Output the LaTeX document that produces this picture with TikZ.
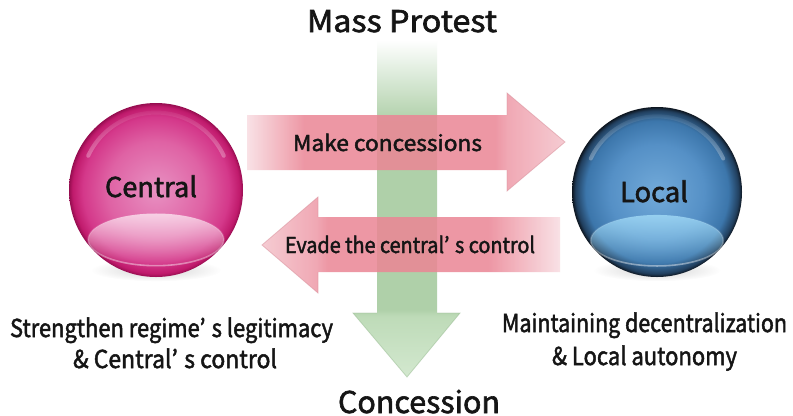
\documentclass[tikz,border=0pt]{standalone}
\usepackage{fontspec}
\usepackage{graphicx}
\usetikzlibrary{fadings,calc}
\newfontfamily\jp[FakeBold=2]{Noto Sans CJK JP}
\newdimen\pxu \pxu=0.75pt
\newcommand\fitw[2]{\resizebox{#1\pxu}{\height}{#2}}
\newcommand\apo{’\hspace{0.28em}}

\definecolor{txtc}{HTML}{151515}
% pink arrows
\definecolor{pkA}{HTML}{F8DDE2}
\definecolor{pk}{HTML}{EB8595}
\definecolor{pkH}{HTML}{EE9AA8}
\definecolor{pkT}{HTML}{F4C3CB}
\definecolor{pkE}{HTML}{D9919C}
% green arrow
\definecolor{gS}{HTML}{AFD0A9}
\definecolor{gH}{HTML}{BEDBB8}
\definecolor{gT}{HTML}{D3E8CF}
\definecolor{gE}{HTML}{9DBF97}
% central ball
\definecolor{cA}{HTML}{E891C2}
\definecolor{cB}{HTML}{DF62A4}
\definecolor{cC}{HTML}{D4388A}
\definecolor{cD}{HTML}{C01A6C}
\definecolor{cE}{HTML}{960D50}
\definecolor{cR}{HTML}{FCE6F1}
% local ball
\definecolor{lA}{HTML}{72AAD9}
\definecolor{lB}{HTML}{5590C6}
\definecolor{lC}{HTML}{3C76AB}
\definecolor{lD}{HTML}{213F5E}
\definecolor{lE}{HTML}{0D151F}
\definecolor{lR}{HTML}{A3DCF8}

\pgfdeclarehorizontalshading{mkshade}{100bp}{color(0bp)=(white); color(25bp)=(pkA); color(34bp)=(pk); color(64bp)=(pk); color(66bp)=(pkH); color(75bp)=(pkT); color(100bp)=(pkT)}
\pgfdeclarehorizontalshading{evshade}{100bp}{color(0bp)=(pkT); color(25bp)=(pkT); color(34bp)=(pkH); color(36bp)=(pk); color(63bp)=(pk); color(75bp)=(pkA); color(100bp)=(pkA)}
\pgfdeclareverticalshading{gshade}{100bp}{color(0bp)=(gT); color(25bp)=(gT); color(34bp)=(gH); color(35bp)=(gS); color(63bp)=(gS); color(75bp)=(white); color(100bp)=(white)}
\pgfdeclareradialshading{cball}{\pgfpoint{0bp}{0bp}}{color(0bp)=(cA); color(14bp)=(cB); color(21bp)=(cC); color(24bp)=(cD); color(25bp)=(cE); color(50bp)=(cE)}
\pgfdeclareradialshading{lball}{\pgfpoint{0bp}{0bp}}{color(0bp)=(lA); color(14bp)=(lB); color(21bp)=(lC); color(24bp)=(lD); color(25bp)=(lE); color(50bp)=(lE)}

\tikzfading[name=fuzzy, inner color=transparent!20, outer color=transparent!100]

\newcommand\gball[4]{%
  \fill[black, opacity=0.22, path fading=fuzzy] ($(#1)+(0,{#2*0.92})$) ellipse ({#2*0.75} and {#2*0.13});
  \shade[shading=#3] (#1) circle (#2);
  \draw[white, line width=3pt, opacity=0.3, path fading=north, line cap=round] ($(#1)+(0,{-#2*0.03})+(205:{#2*0.86})$) arc[start angle=205, end angle=335, radius={#2*0.86}];
  \fill[#4, fill opacity=0.8, path fading=south] ($(#1)+(0,{#2*0.57})$) ellipse ({#2*0.78} and {#2*0.3});
  \draw[white, line width=1.2pt, opacity=0.45, path fading=north] ($(#1)+(0,{#2*0.57})$) ellipse ({#2*0.78} and {#2*0.3});
}

\tikzset{
  lbl/.style={inner sep=0pt, anchor=base, text=txtc},
  big/.style={lbl, font=\jp\fontsize{22.5}{27}\selectfont},
  ball/.style={lbl, font=\jp\fontsize{20.5}{24}\selectfont},
  arr/.style={lbl, font=\jp\fontsize{16.4}{20}\selectfont},
  note/.style={lbl, font=\jp\fontsize{18.5}{22}\selectfont},
  pinkarrow/.style={fill opacity=0.85},
  edge/.style={line width=0.6pt, opacity=0.55, line join=miter},
}

\begin{document}
\begin{tikzpicture}[x=0.75pt,y=-0.75pt]
\useasboundingbox (0,0) rectangle (793,415);
\fill[white] (0,0) rectangle (793,415);

% centres
\coordinate (central) at (156,190);
\coordinate (local) at (657,192);

% green vertical arrow
\shade[shading=gshade] (377,40) -- (437,40) -- (437,313) -- (460,313) -- (407,377) -- (353,313) -- (377,313) -- cycle;
\draw[gE, edge] (377,313) -- (353,313) -- (407,377) -- (460,313) -- (437,313);

% balls
\gball{central}{87}{cball}{cR}
\gball{local}{85}{lball}{lR}

% pink arrows
\shade[shading=mkshade, pinkarrow] (247,115) -- (507,115) -- (507,93) -- (565,142) -- (507,191) -- (507,170) -- (247,170) -- cycle;
\draw[pkE, edge] (507,115) -- (507,93) -- (565,142) -- (507,191) -- (507,170);
\shade[shading=evshade, pinkarrow] (560,217) -- (318,217) -- (318,197) -- (262,245) -- (318,293) -- (318,272) -- (560,272) -- cycle;
\draw[pkE, edge] (318,217) -- (318,197) -- (262,245) -- (318,293) -- (318,272);

% labels
\node[big] (mp) at (402,32) {\fitw{190}{Mass Protest}};
\node[big] (cc) at (419,413) {\fitw{162}{Concession}};
\node[ball] (ct) at (151,197) {\fitw{92}{Central}};
\node[ball] (lt) at (654,202) {\fitw{68}{Local}};
\node[arr] (mk) at (387.5,151) {\fitw{189}{Make concessions}};
\node[arr] (ev) at (410,253) {\fitw{250}{Evade the central\apo s control}};
\node[note] (l1) at (171.5,337) {\fitw{323}{Strengthen regime\apo s legitimacy}};
\node[note] (l2) at (175,368) {\fitw{204}{\& Central\apo s control}};
\node[note] (r1) at (644.5,332) {\fitw{285}{Maintaining decentralization}};
\node[note] (r2) at (644.5,365) {\fitw{185}{\& Local autonomy}};
\end{tikzpicture}
\end{document}
